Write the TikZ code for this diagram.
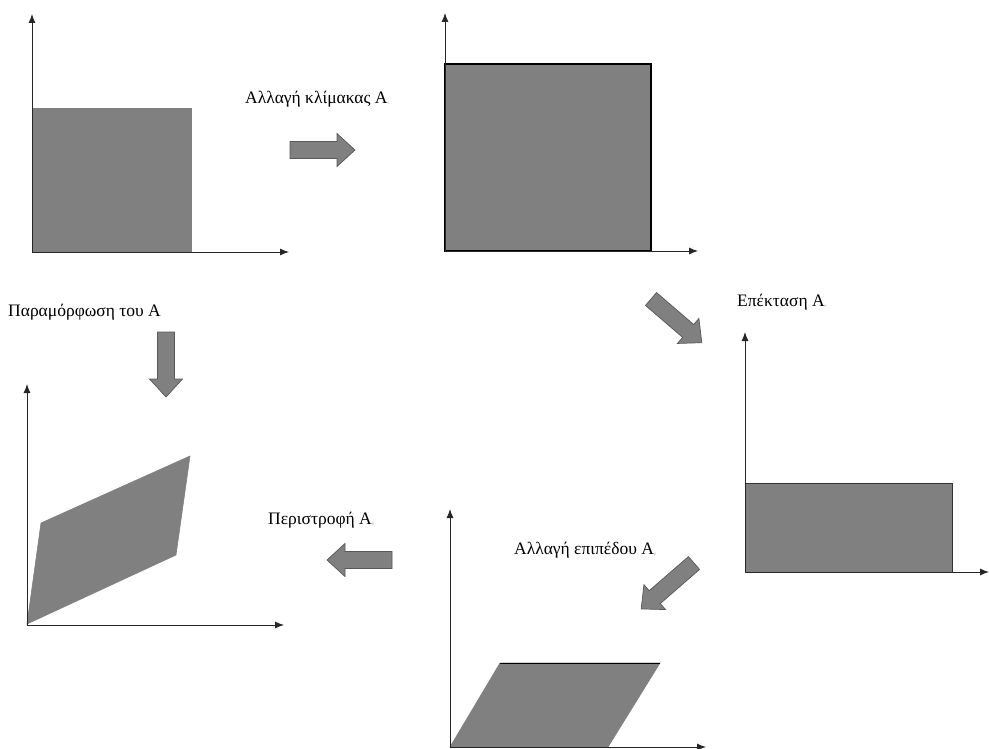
\documentclass[tikz,border=0pt]{standalone}
\usepackage{fontspec}
\usetikzlibrary{arrows.meta}
\setmainfont{Liberation Serif}
\newcommand\fatarrow[4]{% tail x, tail y, angle, length
  \draw[blk,shift={(#1,#2)},rotate=#3] (0,-8.5)--(#4-18,-8.5)--(#4-18,-16.5)--(#4,0)
    --(#4-18,16.5)--(#4-18,8.5)--(0,8.5)--cycle;}
\begin{document}
\begin{tikzpicture}[x=1pt,y=-1pt,>={Latex[length=9pt,width=7pt]},
    ax/.style={->,line width=0.9pt,black!85},
    shp/.style={fill=black!50,draw=black!50,line width=0.6pt},
    blk/.style={fill=black!50,draw=black!65,line width=0.7pt},
    lbl/.style={anchor=base west,inner sep=0pt,font=\fontsize{17.5}{20}\selectfont}]
  \useasboundingbox[fill=white] (0,0) rectangle (989,749);
  % original
  \fill[shp] (32,108) rectangle (191,252);
  \draw[ax] (32,252)--(32,14);
  \draw[ax] (32,252)--(289,252);
  % scaled
  \filldraw[shp,draw=black,line width=1.1pt] (445,64) rectangle (651,251);
  \draw[ax] (445,251)--(445,13);
  \draw[ax] (445,251)--(698,251);
  % stretched
  \filldraw[shp,draw=black!80,line width=0.9pt] (745,483) rectangle (952,572);
  \draw[ax] (745,572)--(745,332);
  \draw[ax] (745,572)--(989,572);
  % sheared
  \fill[shp] (450,747)--(500,663)--(660,663)--(608,747)--cycle;
  \draw[line width=0.9pt] (500,663)--(660,663);
  \draw[ax] (450,747)--(450,509);
  \draw[ax] (450,747)--(706,747);
  % rotated
  \fill[shp] (27,624)--(41,523)--(190,456)--(176,555)--cycle;
  \draw[ax] (27,625)--(27,384);
  \draw[ax] (27,625)--(284,625);
  % block arrows
  \fatarrow{290}{150}{0}{65}
  \fatarrow{651}{299}{-40.7}{67}
  \fatarrow{694}{563}{-139}{70}
  \fatarrow{392}{560}{180}{65}
  \fatarrow{166}{332}{-90}{65}
  % labels
  \node[lbl] (scl) at (245,104) {Αλλαγή κλίμακας A\textcolor{black!25}{\tiny\textsubscript{s}}};
  \node[lbl] (ext) at (737,306) {Επέκταση A\textcolor{black!25}{\tiny\textsubscript{e}}};
  \node[lbl] (pln) at (514,554) {Αλλαγή επιπέδου A\textcolor{black!25}{\tiny\textsubscript{p}}};
  \node[lbl] (rot) at (268,524) {Περιστροφή A\textcolor{black!25}{\tiny\textsubscript{θ}}};
  \node[lbl] (dfm) at (8,316) {Παραμόρφωση του A};
\end{tikzpicture}
\end{document}
